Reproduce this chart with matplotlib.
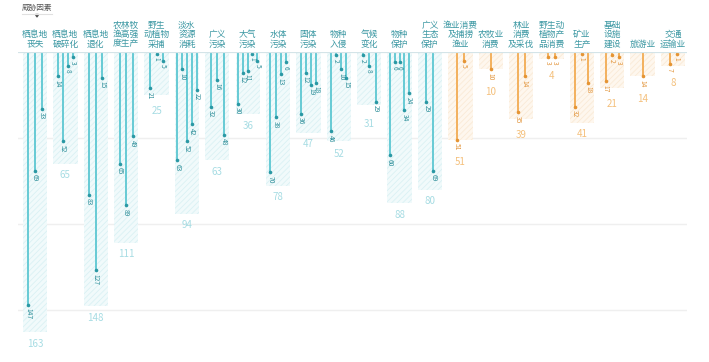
import matplotlib
matplotlib.use('Agg')
import matplotlib.pyplot as plt
from matplotlib.patches import Rectangle, Polygon

plt.rcParams['font.family'] = ['Noto Sans CJK SC', 'DejaVu Sans']
plt.rcParams['hatch.linewidth'] = 0.6

# ---------------- data ----------------
categories = ["栖息地\n丧失", "栖息地\n破碎化", "栖息地\n退化", "农林牧\n渔高强\n度生产",
              "野生\n动植物\n采捕", "淡水\n资源\n消耗", "广义\n污染", "大气\n污染",
              "水体\n污染", "固体\n污染", "物种\n入侵", "气候\n变化", "物种\n保护",
              "广义\n生态\n保护", "渔业消费\n及捕捞\n渔业", "农牧业\n消费", "林业\n消费\n及采伐",
              "野生动\n植物产\n品消费", "矿业\n生产", "基础\n设施\n建设", "旅游业", "交通\n运输业"]
groups = ["threat"] * 14 + ["driver"] * 8
totals = [163, 65, 148, 111, 25, 94, 63, 36, 78, 47, 52, 31, 88, 80,
          51, 10, 39, 4, 41, 21, 14, 8]
sub_values = [
    [147, 69, 33],
    [14, 52, 8, 3],
    [83, 127, 15],
    [65, 89, 49],
    [21, 1, 5],
    [63, 10, 52, 42, 22],
    [32, 16, 48],
    [30, 12, 11, 1, 5],
    [70, 38, 13, 6],
    [36, 12, 19, 18],
    [46, 2, 10, 15],
    [2, 8, 29],
    [60, 6, 6, 34, 24],
    [29, 69],
    [51, 5],
    [10],
    [35, 14],
    [3, 3],
    [32, 1, 18],
    [17, 2, 3],
    [14],
    [7, 1],
]
gridlines = [50, 100, 150]
header = "威胁因素"

# ---------------- style ----------------
W, H = 709, 362
styles = {
    "threat": dict(line="#5cc7d2", dot="#2a98a4", lab="#2b8d98", bg="#f1fafb",
                   hatch="#daf1f4", tot="#a6dce3"),
    "driver": dict(line="#f2ab52", dot="#e59433", lab="#e2943a", bg="#fef7ee",
                   hatch="#faead6", tot="#f4c07c"),
}
px_per_cat = 30.38
px_per_unit = 298 / 173.3
stem_spacing_px = {1: 0, 2: 7.0, 3: 6.6, 4: 5.1, 5: 4.8}

fig = plt.figure(figsize=(W / 100, H / 100), dpi=100)
ax = fig.add_axes([18 / W, 12 / H, 669 / W, 298 / H])
ax.set_xlim(-0.56, 21.46)
ax.set_ylim(173.3, 0)
ax.axis('off')

for g in gridlines:
    ax.axhline(g, color='#efefef', lw=1.0, zorder=0)
ax.axhline(0, color='#d4e4e8', lw=1.6, zorder=4)

for i, (cat, tot, subs, grp) in enumerate(zip(categories, totals, sub_values, groups)):
    st = styles[grp]
    ax.add_patch(Rectangle((i - 0.4, 0), 0.8, tot, facecolor=st["bg"],
                           edgecolor=st["hatch"], hatch='//////', lw=0, zorder=1))
    n = len(subs)
    sp = stem_spacing_px[n] / px_per_cat
    lowest_px = tot * px_per_unit
    for j, v in enumerate(subs):
        x = i + (j - (n - 1) / 2) * sp
        ax.plot([x, x], [0, v], color=st["line"], lw=1.3, solid_capstyle='butt', zorder=2)
        ax.plot(x, v, 'o', ms=2.6, color=st["dot"], mec='none', zorder=3)
        ax.annotate(str(v), (x, v), xytext=(0, -2.5), textcoords='offset points',
                    rotation=-90, ha='center', va='top', fontsize=4.8,
                    color=st["lab"], zorder=5)
        lowest_px = max(lowest_px, v * px_per_unit + 4 + 3.6 * len(str(v)))
    ax.annotate(str(tot), (i, lowest_px / px_per_unit), xytext=(0, -4.5),
                textcoords='offset points', ha='center', va='top', fontsize=7,
                color=st["tot"], annotation_clip=False)
    ax.annotate(cat, (i, 0), xytext=(0, 2.5), textcoords='offset points',
                ha='center', va='bottom', fontsize=6.3, color='#3a97a2',
                linespacing=1.05, annotation_clip=False)

# header
fig.text(37 / W, 1 - 8 / H, header, ha='center', va='center', fontsize=5.5, color='#555555')
fig.add_artist(plt.Line2D([22 / W, 52 / W], [1 - 14 / H, 1 - 14 / H],
                          color='#e0e0e0', lw=0.8, transform=fig.transFigure))
fig.add_artist(Polygon([[35.5 / W, 1 - 14.5 / H], [38.5 / W, 1 - 14.5 / H],
                        [37 / W, 1 - 17 / H]], closed=True, color='#555555',
                       transform=fig.transFigure))

fig.savefig('out.png', dpi=100, facecolor='white')
